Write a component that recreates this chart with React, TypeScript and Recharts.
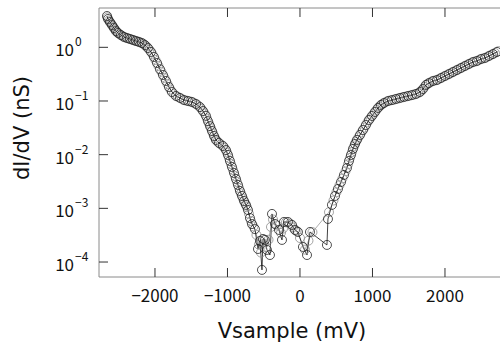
import React from 'react';
import { ComposedChart, Line, XAxis, YAxis } from 'recharts';

// sweep 1 (dark): Vsample (mV) and dI/dV (nS)
const volts1 = [
  -2662, -2648, -2621, -2593, -2566, -2538, -2510, -2469, -2428, -2386, -2345, -2303, -2262, -2221,
  -2179, -2138, -2097, -2055, -2014, -1972, -1931, -1890, -1848, -1807, -1766, -1710, -1655, -1600,
  -1545, -1490, -1434, -1379, -1338, -1297, -1269, -1241, -1214, -1186, -1159, -1117, -1062, -1021,
  -993, -966, -938, -910, -883, -855, -828, -800, -772, -745, -717, -690, -662, -621, -579, -552,
  -524, -510, -483, -455, -414, -386, -345, -290, -248, -221, -166, -110, -69, -28, 41, 97, 138,
  372, 386, 441, 483, 524, 566, 607, 648, 676, 703, 731, 759, 786, 828, 869, 910, 952, 993, 1034,
  1076, 1117, 1159, 1214, 1269, 1324, 1379, 1434, 1490, 1545, 1600, 1655, 1697, 1738, 1779, 1834,
  1890, 1945, 2000, 2055, 2110, 2166, 2221, 2276, 2331, 2386, 2441, 2497, 2552, 2607, 2662, 2717,
];
const didv1 = [
  3.83, 3.37, 2.96, 2.6, 2.29, 2.01, 1.85, 1.69, 1.56, 1.49, 1.43, 1.37, 1.31, 1.26,
  1.2, 1.1, 0.97, 0.82, 0.66, 0.51, 0.39, 0.305, 0.236, 0.182, 0.147, 0.124, 0.114, 0.104,
  0.1, 0.096, 0.088, 0.077, 0.065, 0.053, 0.042, 0.034, 0.0276, 0.0223, 0.0188, 0.0165, 0.0145, 0.0122,
  0.00986, 0.00763, 0.0059, 0.00456, 0.00353, 0.00273, 0.00211, 0.0017, 0.00137, 0.00116, 0.00093, 0.00066, 0.00051, 0.00041, 0.000175, 0.000247,
  0.0000713, 0.000269, 0.000258, 0.000168, 0.000135, 0.000787, 0.000512, 0.000396, 0.000258, 0.000558, 0.000558, 0.000491, 0.000396, 0.000363, 0.000191, 0.000135, 0.000363,
  0.000208, 0.000634, 0.00116, 0.0017, 0.0023, 0.0031, 0.00419, 0.00565, 0.00763, 0.00986, 0.0128, 0.0158, 0.0188, 0.0233, 0.0288, 0.0357, 0.0443, 0.0526, 0.0624,
  0.0741, 0.0843, 0.0918, 0.1, 0.104, 0.109, 0.114, 0.119, 0.124, 0.129, 0.135, 0.147, 0.167, 0.199, 0.216, 0.236,
  0.246, 0.268, 0.292, 0.318, 0.347, 0.378, 0.412, 0.449, 0.489, 0.532, 0.556, 0.606, 0.632, 0.689, 0.75, 0.82,
];

// sweep 2 (grey)
const volts2 = [
  -2655, -2635, -2607, -2580, -2552, -2524, -2490, -2448, -2407, -2366, -2324, -2283, -2241, -2200,
  -2159, -2117, -2076, -2034, -1993, -1952, -1910, -1869, -1828, -1786, -1738, -1683, -1628, -1572,
  -1517, -1462, -1407, -1359, -1317, -1283, -1255, -1228, -1200, -1172, -1138, -1090, -1041, -1007,
  -980, -952, -924, -897, -869, -841, -814, -786, -759, -731, -703, -676, -641, -600,
  -566, -538, -497, -469, -434, -400, -372, -317, -262, -234, -193, -138, -97, -48, 0, 69, 117, 172,
  400, 462, 503, 545, 586, 628, 662, 690, 717, 745, 772, 807, 848, 890, 931, 972, 1014, 1055, 1097,
  1138, 1186, 1241, 1297, 1352, 1407, 1462, 1517, 1572, 1628, 1676, 1717, 1759, 1807, 1862, 1917,
  1972, 2028, 2083, 2138, 2193, 2248, 2303, 2359, 2414, 2469, 2524, 2579, 2634, 2690, 2740,
];
const didv2 = [
  3.6, 3.15, 2.78, 2.45, 2.15, 1.93, 1.76, 1.62, 1.52, 1.46, 1.4, 1.34, 1.29, 1.23,
  1.16, 1.04, 0.9, 0.74, 0.58, 0.45, 0.35, 0.27, 0.208, 0.163, 0.135, 0.119, 0.109, 0.102,
  0.098, 0.092, 0.083, 0.071, 0.059, 0.047, 0.038, 0.031, 0.025, 0.0205, 0.0176, 0.0155, 0.0134, 0.011,
  0.0087, 0.0067, 0.0052, 0.004, 0.0031, 0.0024, 0.0019, 0.00153, 0.00126, 0.00105, 0.00079, 0.00058, 0.00046, 0.00032,
  0.00021, 0.00015, 0.00022, 0.00019, 0.00026, 0.00045, 0.00062, 0.00048, 0.00035, 0.00042, 0.00055, 0.00052, 0.00044, 0.00038, 0.00028, 0.00017, 0.00025, 0.00036,
  0.00085, 0.0014, 0.002, 0.0027, 0.0036, 0.0049, 0.0066, 0.0087, 0.0112, 0.0142, 0.0173, 0.021, 0.026, 0.032, 0.04, 0.048, 0.057, 0.068, 0.079,
  0.088, 0.096, 0.102, 0.106, 0.111, 0.116, 0.121, 0.126, 0.132, 0.14, 0.156, 0.183, 0.208, 0.226, 0.241, 0.257,
  0.28, 0.305, 0.332, 0.362, 0.395, 0.43, 0.469, 0.51, 0.544, 0.58, 0.619, 0.66, 0.72, 0.785, 0.85,
];

const xTicks = [-2000, -1000, 0, 1000, 2000];
const yTicks = [1e-4, 1e-3, 1e-2, 1e-1, 1];

const sweep1 = volts1.map((v, i) => ({ v, g: didv1[i] }));
const sweep2 = volts2.map((v, i) => ({ v, g: didv2[i] }));

const TICK_FONT = '"Noto Sans CJK JP", "DejaVu Sans", sans-serif';
const LABEL_FONT = '"DejaVu Sans", sans-serif';
const AXIS = '#8a8a8a';
const TICK = '#333';
const X_DOMAIN = [-2772, 2759];
const Y_DOMAIN = [5.26e-5, 5.4];

const fmtX = (v: number) => (v < 0 ? '\u2212' + Math.abs(v) : String(v));

const BottomTick = (props: any) => {
  const { x, y, payload } = props;
  return (
    <g>
      <line x1={x} x2={x} y1={y} y2={y - 9} stroke={TICK} strokeWidth={1} />
      <text x={x} y={y + 25} textAnchor="middle" fontSize={17} fontFamily={TICK_FONT} fill="#111">
        {fmtX(payload.value)}
      </text>
    </g>
  );
};

const TopTick = (props: any) => {
  const { x, y } = props;
  return <line x1={x} x2={x} y1={y} y2={y + 9} stroke={TICK} strokeWidth={1} />;
};

const LeftTick = (props: any) => {
  const { x, y, payload } = props;
  const e = Math.round(Math.log10(payload.value));
  return (
    <g>
      <line x1={x} x2={x + 9} y1={y} y2={y} stroke={TICK} strokeWidth={1} />
      <text x={x - 25} y={y + 9} textAnchor="end" fontSize={17} fontFamily={TICK_FONT} fill="#111">
        10
      </text>
      <text x={x - 24} y={y - 1} textAnchor="start" fontSize={12} fontFamily={TICK_FONT} fill="#111">
        {e === 0 ? '0' : '\u2212' + Math.abs(e)}
      </text>
    </g>
  );
};

const RightTick = (props: any) => {
  const { x, y } = props;
  return <line x1={x} x2={x - 9} y1={y} y2={y} stroke={TICK} strokeWidth={1} />;
};

export default function App() {
  return (
    <div style={{ position: 'absolute', left: 0, top: 0, width: 500, height: 343, background: '#fff' }}>
      <ComposedChart width={500} height={343} margin={{ top: 0, right: 0, bottom: 0, left: 0 }}>
        <XAxis
          xAxisId="b"
          dataKey="v"
          type="number"
          domain={X_DOMAIN}
          ticks={xTicks}
          allowDataOverflow
          height={66}
          tickSize={0}
          tickMargin={0}
          axisLine={{ stroke: AXIS }}
          tickLine={false}
          tick={<BottomTick />}
          interval={0}
        />
        <XAxis
          xAxisId="t"
          orientation="top"
          dataKey="v"
          type="number"
          domain={X_DOMAIN}
          ticks={xTicks}
          allowDataOverflow
          height={8}
          tickSize={0}
          tickMargin={0}
          axisLine={{ stroke: AXIS }}
          tickLine={false}
          tick={<TopTick />}
          interval={0}
        />
        <YAxis
          yAxisId="l"
          scale="log"
          type="number"
          domain={Y_DOMAIN}
          ticks={yTicks}
          allowDataOverflow
          width={99}
          tickSize={0}
          tickMargin={0}
          axisLine={{ stroke: AXIS }}
          tickLine={false}
          tick={<LeftTick />}
          interval={0}
        />
        <YAxis
          yAxisId="r"
          orientation="right"
          scale="log"
          type="number"
          domain={Y_DOMAIN}
          ticks={yTicks}
          allowDataOverflow
          width={0}
          tickSize={0}
          tickMargin={0}
          axisLine={{ stroke: AXIS }}
          tickLine={false}
          tick={<RightTick />}
          interval={0}
        />
        <Line
          xAxisId="b"
          yAxisId="l"
          data={sweep2}
          dataKey="g"
          type="linear"
          stroke="#999"
          strokeWidth={0.8}
          dot={{ r: 4.5, fill: 'none', stroke: '#8c8c8c', strokeWidth: 0.8 }}
          isAnimationActive={false}
        />
        <Line
          xAxisId="b"
          yAxisId="l"
          data={sweep1}
          dataKey="g"
          type="linear"
          stroke="#111"
          strokeWidth={0.8}
          dot={{ r: 4.5, fill: 'none', stroke: '#222', strokeWidth: 0.8 }}
          isAnimationActive={false}
        />
        <text x={292} y={338} textAnchor="middle" fontSize={21} fontFamily={LABEL_FONT} fill="#111">
          Vsample (mV)
        </text>
        <text
          x={0}
          y={0}
          transform="translate(29 128) rotate(-90)"
          textAnchor="middle"
          fontSize={21}
          fontFamily={LABEL_FONT}
          fill="#111"
        >
          dI/dV (nS)
        </text>
      </ComposedChart>
    </div>
  );
}
